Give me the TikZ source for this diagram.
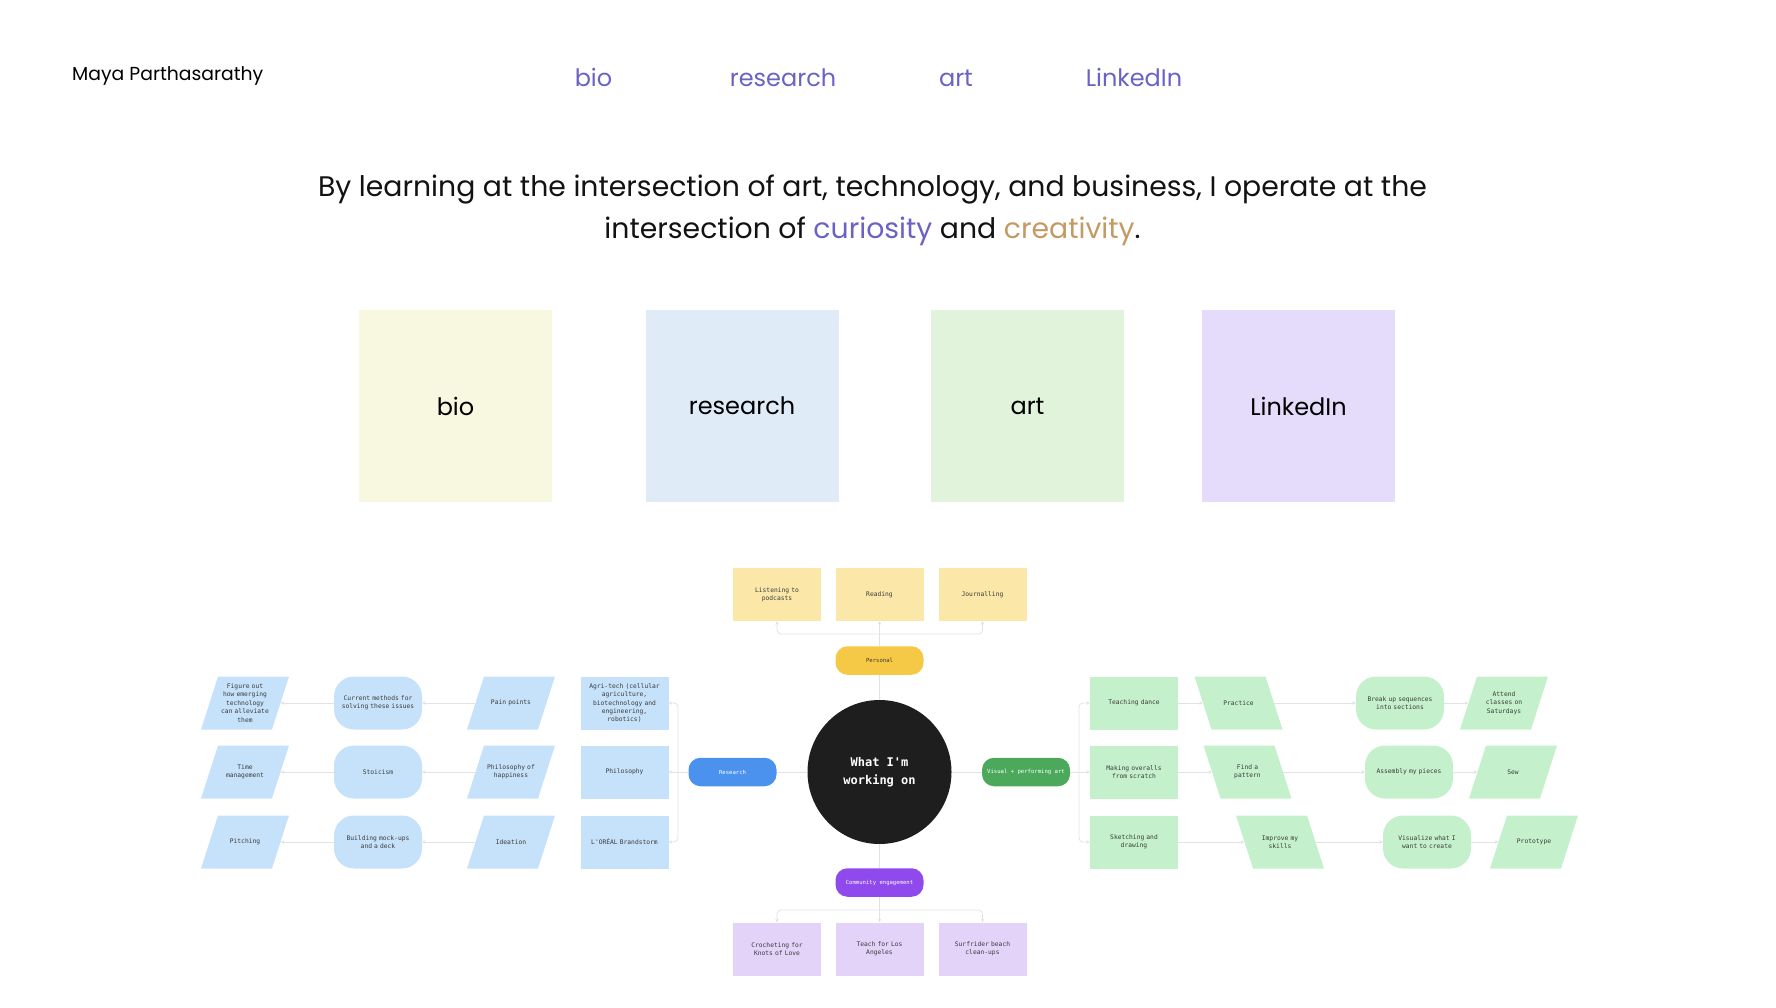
\documentclass[tikz,border=0pt]{standalone}
\usepackage{fontspec}
\setmainfont{Poppins}
\newfontfamily\monofont{DejaVu Sans Mono}
\usetikzlibrary{arrows.meta}
\definecolor{navc}{HTML}{6A62C4}
\definecolor{cur}{HTML}{6A62C4}
\definecolor{cre}{HTML}{C49A62}
\definecolor{tbio}{HTML}{F8F7E0}
\definecolor{tres}{HTML}{DFEBF7}
\definecolor{tart}{HTML}{E1F3DA}
\definecolor{tlin}{HTML}{E5DCFB}
\definecolor{lblue}{HTML}{C6E2FA}
\definecolor{dblue}{HTML}{4A92EE}
\definecolor{lgreen}{HTML}{C4F1CC}
\definecolor{dgreen}{HTML}{4CA95C}
\definecolor{lyel}{HTML}{FBE8A8}
\definecolor{dyel}{HTML}{F5C945}
\definecolor{lpur}{HTML}{E4D3F9}
\definecolor{dpur}{HTML}{9049EC}
\definecolor{circ}{HTML}{1E1E1E}
\definecolor{lineg}{HTML}{E2E2E2}
\definecolor{boxtxt}{HTML}{3A3A3A}
\tikzset{
  conn/.style={draw=lineg, line width=0.8pt},
  arr/.style={conn, -{Stealth[length=3.5pt,width=3.5pt]}},
  boxtext/.style={font=\monofont\fontsize{6.3}{8.4}\selectfont, text=boxtxt, align=center},
  rbox/.style={boxtext, minimum width=88pt, minimum height=53pt, inner sep=0pt, text width=78pt},
  rnd/.style={rbox, rounded corners=20pt},
  pill/.style={minimum width=88pt, minimum height=28.5pt, rounded corners=12pt, inner sep=0pt,
    font=\monofont\fontsize{5.6}{7}\selectfont, text=white, align=center},
  tile/.style={minimum width=193pt, minimum height=192pt, inner sep=0pt, font=\fontsize{24}{28}\selectfont},
  nav/.style={text=navc, font=\fontsize{24}{28}\selectfont, anchor=base, inner sep=0pt},
  ptext/.style={boxtext, minimum width=71pt, minimum height=53pt, inner sep=0pt, text width=58pt},
}
% "/" parallelogram: name, x, y, colour, text
\newcommand\paraF[5]{%
  \fill[#4] (#2-44,#3+26.5) -- (#2+27,#3+26.5) -- (#2+44,#3-26.5) -- (#2-27,#3-26.5) -- cycle;
  \node[ptext] (#1) at (#2,#3) {#5};}
% "\" parallelogram
\newcommand\paraB[5]{%
  \fill[#4] (#2-44,#3-26.5) -- (#2+27,#3-26.5) -- (#2+44,#3+26.5) -- (#2-27,#3+26.5) -- cycle;
  \node[ptext] (#1) at (#2,#3) {#5};}
\begin{document}
\begin{tikzpicture}[x=1pt,y=-1pt]
\useasboundingbox (0,0) rectangle (1776,1008);
% header
\node[anchor=base west, inner sep=0pt, font=\fontsize{18.8}{22}\selectfont] (name) at (72,80.5) {Maya Parthasarathy};
\node[nav] (nbio) at (593.5,86.5) {bio};
\node[nav] (nres) at (783,86.5) {research};
\node[nav] (nart) at (956,86.5) {art};
\node[nav] (nlin) at (1134,86.5) {LinkedIn};
% heading
\node[anchor=base, inner sep=0pt, font=\fontsize{28.3}{34}\selectfont, text=black!93] (h1) at (872.5,196.5)
  {By learning at the intersection of art, technology, and business, I operate at the};
\node[anchor=base, inner sep=0pt, font=\fontsize{28.3}{34}\selectfont, text=black!93] (h2) at (872.5,238.5)
  {intersection of \textcolor{cur}{curiosity} and \textcolor{cre}{creativity}.};
% tiles
\node[tile, fill=tbio] (tb) at (455.5,406) {bio};
\node[tile, fill=tres] (tr) at (742,406) {research};
\node[tile, fill=tart] (ta) at (1027.5,406) {art};
\node[tile, fill=tlin] (tl) at (1298.5,406) {LinkedIn};
% centre
\node[circle, fill=circ, minimum size=144pt, inner sep=0pt, text=white, align=center,
  font=\monofont\bfseries\fontsize{12}{18}\selectfont] (c) at (879.5,772) {What I'm\\working on};
\node[pill, fill=dyel, text=boxtxt] (per) at (879.5,660.5) {Personal};
\node[pill, fill=dpur] (com) at (879.5,882.5) {Community engagement};
\node[pill, fill=dblue] (res) at (732.5,772) {Research};
\node[pill, fill=dgreen] (vis) at (1026,772) {Visual + performing art};
% personal
\node[rbox, fill=lyel] (P1) at (777,594.5) {Listening to\\podcasts};
\node[rbox, fill=lyel] (P2) at (879.5,594.5) {Reading};
\node[rbox, fill=lyel] (P3) at (982.5,594.5) {Journalling};
% community
\node[rbox, fill=lpur] (C1) at (777,949) {Crocheting for\\Knots of Love};
\node[rbox, fill=lpur] (C2) at (879.5,949) {Teach for Los\\Angeles};
\node[rbox, fill=lpur] (C3) at (982.5,949) {Surfrider beach\\clean-ups};
% left grid
\paraF{L11}{245}{703}{lblue}{Figure out\\how emerging\\technology\\can alleviate\\them}
\paraF{L21}{245}{772}{lblue}{Time\\management}
\paraF{L31}{245}{842}{lblue}{Pitching}
\node[rnd, fill=lblue] (L12) at (378,703) {Current methods for\\solving these issues};
\node[rnd, fill=lblue] (L22) at (378,772) {Stoicism};
\node[rnd, fill=lblue] (L32) at (378,842) {Building mock-ups\\and a deck};
\paraF{L13}{511}{703}{lblue}{Pain points}
\paraF{L23}{511}{772}{lblue}{Philosophy of\\happiness}
\paraF{L33}{511}{842}{lblue}{Ideation}
\node[rbox, fill=lblue] (L14) at (624.5,703) {Agri-tech (cellular\\agriculture,\\biotechnology and\\engineering,\\robotics)};
\node[rbox, fill=lblue] (L24) at (624.5,772) {Philosophy};
\node[rbox, fill=lblue] (L34) at (624.5,842) {L'ORÉAL Brandstorm};
% right grid
\node[rbox, fill=lgreen] (R11) at (1134,703) {Teaching dance};
\node[rbox, fill=lgreen] (R21) at (1134,772) {Making overalls\\from scratch};
\node[rbox, fill=lgreen] (R31) at (1134,842) {Sketching and\\drawing};
\paraB{R12}{1238.5}{703}{lgreen}{Practice}
\paraB{R22}{1247.5}{772}{lgreen}{Find a\\pattern}
\paraB{R32}{1280}{842}{lgreen}{Improve my\\skills}
\node[rnd, fill=lgreen] (R13) at (1400,703) {Break up sequences\\into sections};
\node[rnd, fill=lgreen] (R23) at (1409,772) {Assembly my pieces};
\node[rnd, fill=lgreen] (R33) at (1427,842) {Visualize what I\\want to create};
\paraF{R14}{1504}{703}{lgreen}{Attend\\classes on\\Saturdays}
\paraF{R24}{1513}{772}{lgreen}{Sew}
\paraF{R34}{1534}{842}{lgreen}{Prototype}
% connectors: centre
\draw[conn] (res.east) -- (c.west);
\draw[conn] (c.east) -- (vis.west);
\draw[conn] (per.south) -- (c.north);
\draw[conn] (c.south) -- (com.north);
% personal
\coordinate (pj) at (879.5,634);
\draw[conn] (per.north) -- (pj);
\draw[arr, rounded corners=4pt] (pj) -| (P1.south);
\draw[arr, rounded corners=4pt] (pj) -| (P3.south);
\draw[arr] (pj) -- (P2.south);
% community
\coordinate (cj) at (879.5,910);
\draw[conn] (com.south) -- (cj);
\draw[arr, rounded corners=4pt] (cj) -| (C1.north);
\draw[arr, rounded corners=4pt] (cj) -| (C3.north);
\draw[arr] (cj) -- (C2.north);
% left bracket
\coordinate (lb) at (678,772);
\draw[conn] (res.west) -- (lb);
\draw[arr, rounded corners=4pt] (lb) |- (L14.east);
\draw[arr, rounded corners=4pt] (lb) |- (L34.east);
\draw[arr] (lb) -- (L24.east);
\foreach \r in {1,2,3}{
  \draw[arr] (L\r3.west) -- (L\r2.east);
  \draw[arr] (L\r2.west) -- (L\r1.east);
}
% right bracket
\coordinate (rb) at (1079,772);
\draw[conn] (vis.east) -- (rb);
\draw[arr, rounded corners=4pt] (rb) |- (R11.west);
\draw[arr, rounded corners=4pt] (rb) |- (R31.west);
\draw[arr] (rb) -- (R21.west);
\foreach \r in {1,2,3}{
  \draw[arr] (R\r1.east) -- (R\r2.west);
  \draw[arr] (R\r2.east) -- (R\r3.west);
  \draw[arr] (R\r3.east) -- (R\r4.west);
}
\end{tikzpicture}
\end{document}
